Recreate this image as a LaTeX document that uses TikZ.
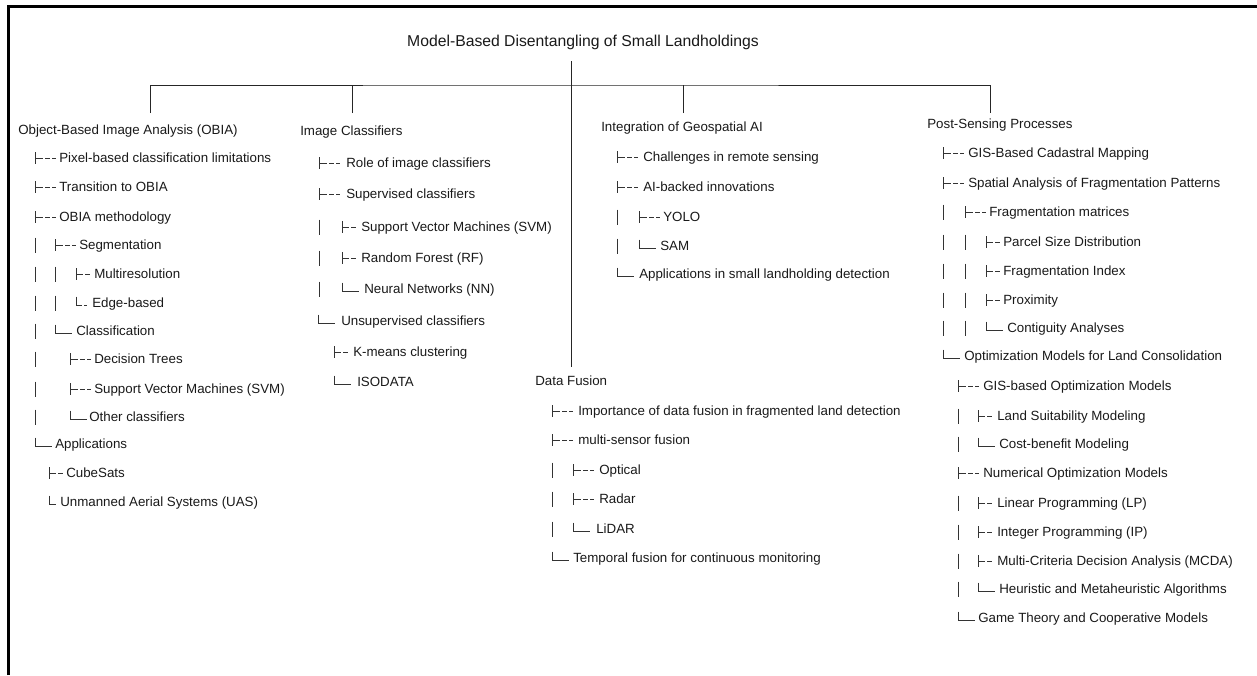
\documentclass[tikz,border=0pt]{standalone}
\usepackage{fontspec}
\setmainfont{Liberation Sans}
\usepackage{tikz}

% one row of an outline: glyph, then its label
\newcommand{\twig}[6]{\pic at (#3,#5) {#2}; \node[leaf] (#1) at (#4,#5) {#6};}

\begin{document}
\begin{tikzpicture}[x=0.75pt,y=-0.75pt]
\tikzstyle{root}=[font=\fontsize{11.8}{14}\selectfont, inner sep=0pt, text=black!90]
\tikzstyle{branch}=[anchor=west, font=\fontsize{10}{12}\selectfont, inner sep=0pt, text height=7pt, text depth=0pt, text=black!90]
\tikzstyle{leaf}=[branch]
\tikzstyle{wire}=[line width=0.75pt, draw=black!85]
\tikzstyle{glyph}=[line width=0.6pt, draw=black!80]
\tikzset{
  tee/.pic={\draw[glyph] (0,-6)--(0,6) (0,0)--(8,0) (10,0)--(15,0) (17,0)--(21,0);},
  teeshort/.pic={\draw[glyph] (0,-6)--(0,6) (0,0)--(7,0) (9,0)--(14,0);},
  elbow/.pic={\draw[glyph] (0,-6.5)--(0,2)--(17,2);},
  nook/.pic={\draw[glyph] (0,-6.5)--(0,2)--(6,2) (8,2)--(11,2);},
  corner/.pic={\draw[glyph] (0,-6.5)--(0,2)--(7,2);},
  rail/.pic={\draw[glyph] (0,-7.5)--(0,7.5);}
}
\useasboundingbox (0,0) rectangle (1257,675);

% frame
\draw[line width=2pt] (8.7,675) -- (8.7,6.5) -- (1257,6.5);

% title and the five branches
\node[root] (title) at (583,42) {Model-Based Disentangling of Small Landholdings};
\node[branch] (obia) at (18,130) {Object-Based Image Analysis (OBIA)};
\node[branch] (ic) at (300,131) {Image Classifiers};
\node[branch] (geo) at (601,127) {Integration of Geospatial AI};
\node[branch] (df) at (535,381) {Data Fusion};
\node[branch] (ps) at (927,124) {Post-Sensing Processes};

\coordinate (top) at (571,61);
\coordinate (hub) at (571,85);
\coordinate (obia-in) at (150,113);
\coordinate (ic-in) at (352,113);
\coordinate (geo-in) at (683,113);
\coordinate (ps-in) at (990,113);
\coordinate (df-in) at (571,367);
\draw[wire] (top) -- (df-in);
\draw[wire] (obia-in) |- (hub) -| (ps-in);
\draw[wire] (ic-in) -- (ic-in |- hub);
\draw[wire] (geo-in) -- (geo-in |- hub);

% vertical rails
\foreach \y in {245,274,303,331,359,389,417} \pic at (35,\y) {rail};
\foreach \y in {274,303} \pic at (55,\y) {rail};
\foreach \y in {227,258,289} \pic at (319,\y) {rail};
\foreach \y in {217,246} \pic at (617,\y) {rail};
\foreach \y in {470,499,529} \pic at (552,\y) {rail};
\foreach \y in {212,242,271,300,328} \pic at (943,\y) {rail};
\foreach \y in {242,271,300,328} \pic at (965,\y) {rail};
\foreach \y in {416,444,503,532,561,589} \pic at (958,\y) {rail};

% OBIA
\twig{o1}{tee}{35}{59}{158}{Pixel-based classification limitations}
\twig{o2}{tee}{35}{59}{187}{Transition to OBIA}
\twig{o3}{tee}{35}{59}{217}{OBIA methodology}
\twig{o4}{tee}{55}{79}{245}{Segmentation}
\twig{o5}{teeshort}{76}{94}{274}{Multiresolution}
\twig{o6}{nook}{76}{92}{303}{Edge-based}
\twig{o7}{elbow}{55}{76}{331}{Classification}
\twig{o8}{tee}{70}{94}{359}{Decision Trees}
\twig{o9}{tee}{70}{94}{389}{Support Vector Machines (SVM)}
\twig{o10}{elbow}{70}{89}{417}{Other classifiers}
\twig{o11}{elbow}{35}{55}{444}{Applications}
\twig{o12}{teeshort}{49}{66}{473}{CubeSats}
\twig{o13}{corner}{49}{60}{502}{Unmanned Aerial Systems (UAS)}

% Image classifiers
\twig{c1}{tee}{319}{346}{163}{Role of image classifiers}
\twig{c2}{tee}{319}{346}{194}{Supervised classifiers}
\twig{c3}{teeshort}{342}{361}{227}{Support Vector Machines (SVM)}
\twig{c4}{teeshort}{342}{361}{258}{Random Forest (RF)}
\twig{c5}{elbow}{342}{364}{289}{Neural Networks (NN)}
\twig{c6}{elbow}{318}{341}{321}{Unsupervised classifiers}
\twig{c7}{teeshort}{334}{353}{352}{K-means clustering}
\twig{c8}{elbow}{334}{357}{382}{ISODATA}

% Geospatial AI
\twig{g1}{tee}{617}{643}{157}{Challenges in remote sensing}
\twig{g2}{tee}{617}{643}{187}{AI-backed innovations}
\twig{g3}{tee}{639}{663}{217}{YOLO}
\twig{g4}{elbow}{639}{660}{246}{SAM}
\twig{g5}{elbow}{617}{639}{274}{Applications in small landholding detection}

% Data fusion
\twig{f1}{tee}{552}{578}{411}{Importance of data fusion in fragmented land detection}
\twig{f2}{tee}{552}{578}{440}{multi-sensor fusion}
\twig{f3}{tee}{573}{599}{470}{Optical}
\twig{f4}{tee}{573}{599}{499}{Radar}
\twig{f5}{elbow}{573}{596}{529}{LiDAR}
\twig{f6}{elbow}{552}{573}{558}{Temporal fusion for continuous monitoring}

% Post-sensing
\twig{p1}{tee}{943}{968}{153}{GIS-Based Cadastral Mapping}
\twig{p2}{tee}{943}{968}{183}{Spatial Analysis of Fragmentation Patterns}
\twig{p3}{tee}{965}{989}{212}{Fragmentation matrices}
\twig{p4}{teeshort}{986}{1003}{242}{Parcel Size Distribution}
\twig{p5}{teeshort}{986}{1003}{271}{Fragmentation Index}
\twig{p6}{teeshort}{986}{1003}{300}{Proximity}
\twig{p7}{elbow}{986}{1007}{328}{Contiguity Analyses}
\twig{p8}{elbow}{943}{964}{356}{Optimization Models for Land Consolidation}
\twig{p9}{tee}{958}{983}{386}{GIS-based Optimization Models}
\twig{p10}{teeshort}{978}{997}{416}{Land Suitability Modeling}
\twig{p11}{elbow}{978}{999}{444}{Cost-benefit Modeling}
\twig{p12}{tee}{958}{983}{473}{Numerical Optimization Models}
\twig{p13}{teeshort}{978}{997}{503}{Linear Programming (LP)}
\twig{p14}{teeshort}{978}{997}{532}{Integer Programming (IP)}
\twig{p15}{teeshort}{978}{997}{561}{Multi-Criteria Decision Analysis (MCDA)}
\twig{p16}{elbow}{978}{999}{589}{Heuristic and Metaheuristic Algorithms}
\twig{p17}{elbow}{958}{978}{618}{Game Theory and Cooperative Models}
\end{tikzpicture}
\end{document}
